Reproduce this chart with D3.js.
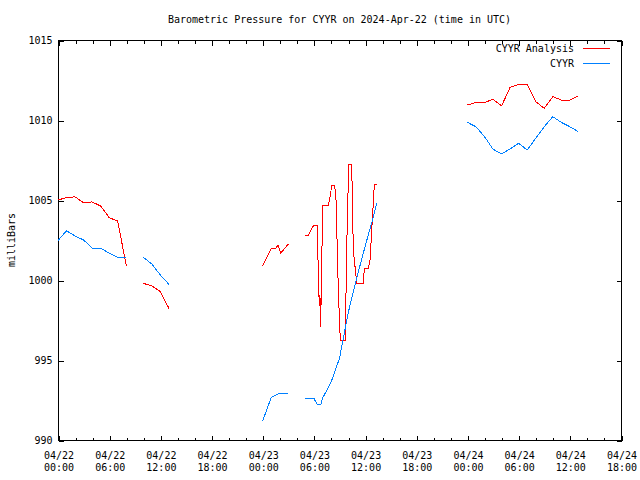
<!DOCTYPE html>
<html>
<head>
<meta charset="utf-8">
<script src="https://cdn.jsdelivr.net/npm/d3@7"></script>
<style>
  body { margin: 0; background: #fff; }
  svg { display: block; }
  text { font-family: "DejaVu Sans Mono", "Liberation Mono", monospace; font-size: 10px; fill: #000; }
</style>
</head>
<body>
<svg id="chart" width="640" height="480"></svg>
<script>
// ---- Data (hours since 2024-04-22 00:00 UTC; null = gap) ----
const analysisTimes = [0,1,2,3,4,5,6,7,8, null, 10,11,12,13, null,
  24,25,25.5,25.8,26.1,27, null,
  28.96,29.34,29.93,30.40,30.52,30.63,30.71,30.79,31.03,31.69,31.89,32.09,32.44,32.59,32.86,33.09,33.68,33.84,34.08,34.43,34.62,35.02,35.79,35.91,36.38,36.58,37.08,37.36, null,
  48,49,50,51,52,53,54,55,56,57,58,59,60,61];
const analysisValues = [1005.0,1005.15,1005.2,1004.82,1004.88,1004.62,1003.9,1003.68,1000.9, null, 999.79,999.63,999.27,998.23, null,
  1000.88,1001.98,1001.98,1002.19,1001.67,1002.25, null,
  1002.81,1002.81,1003.38,1003.38,1000.3,998.4,999.06,997.08,1004.63,1004.63,1005.2,1005.88,1005.88,1005.0,999.4,996.25,996.25,1001.9,1007.23,1007.23,1001.88,999.79,999.79,1000.73,1000.73,1001.25,1005.94,1005.94, null,
  1010.94,1011.1,1011.1,1011.29,1010.88,1012.04,1012.23,1012.23,1011.15,1010.73,1011.46,1011.25,1011.25,1011.5];

const cyyrTimes = [0,1,2,3,4,5,6,7,8, null, 10,11,12,13, null,
  24,25,26,27, null,
  29,30,30.4,30.8,31,32,33,34,35,36,37,37.36, null,
  48,49,50,51,52,53,54,55,56,57,58,59,60,61];
const cyyrValues = [1002.46,1003.08,1002.75,1002.5,1002.0,1002.0,1001.67,1001.42,1001.42, null, 1001.42,1001.0,1000.31,999.73, null,
  991.2,992.67,992.92,992.92, null,
  992.6,992.6,992.2,992.2,992.6,993.6,995.1,997.9,1000.1,1002.1,1004.0,1004.8, null,
  1009.85,1009.58,1008.96,1008.17,1007.88,1008.19,1008.54,1008.13,1008.85,1009.58,1010.21,1009.85,1009.58,1009.27];

const xTickHours = [0,6,12,18,24,30,36,42,48,54,60,66];
const xTickDates = ["04/22","04/22","04/22","04/22","04/23","04/23","04/23","04/23","04/24","04/24","04/24","04/24"];
const xTickTimes = ["00:00","06:00","12:00","18:00","00:00","06:00","12:00","18:00","00:00","06:00","12:00","18:00"];
const xMinorHours = d3.range(0, 67, 2).filter(h => h % 6 !== 0);
const yTicks = [990, 995, 1000, 1005, 1010, 1015];

const titleText = "Barometric Pressure for CYYR on 2024-Apr-22 (time in UTC)";
const yLabelText = "milliBars";
const seriesNames = ["CYYR Analysis", "CYYR"];
const seriesColors = ["#ff0000", "#0080ff"];

// ---- Layout ----
const svg = d3.select("#chart");
const L = 58, R = 621, T = 40, B = 440;
const x = d3.scaleLinear().domain([0, 66]).range([L, R]);
const y = d3.scaleLinear().domain([990, 1015]).range([B, T]);

svg.append("rect").attr("width", 640).attr("height", 480).attr("fill", "#fff");

// Title
svg.append("text").attr("x", (L + R) / 2).attr("y", 23).attr("text-anchor", "middle").text(titleText);

// Y label
svg.append("text").attr("transform", "translate(15,240) rotate(-90)")
  .attr("text-anchor", "middle").text(yLabelText);

// Axes
function styleAxis(g) {
  g.select(".domain").remove();
  g.selectAll("line").attr("stroke", "#000").attr("shape-rendering", "crispEdges");
  g.selectAll("text").style("font-family", "\"DejaVu Sans Mono\", monospace").style("font-size", "10px");
}

// bottom major
const xAxis = svg.append("g").attr("transform", `translate(0.5,${B + 0.5})`)
  .call(d3.axisBottom(x).tickValues(xTickHours).tickSize(-5).tickPadding(0).tickFormat(""))
  .call(styleAxis);
xAxis.selectAll(".tick text").remove();
xAxis.selectAll(".tick").each(function(d, i) {
  const t = d3.select(this).append("text").attr("text-anchor", "middle").attr("fill", "#000");
  t.append("tspan").attr("x", 0).attr("y", 18).text(xTickDates[i]);
  t.append("tspan").attr("x", 0).attr("y", 30).text(xTickTimes[i]);
});
// bottom minor
svg.append("g").attr("transform", `translate(0.5,${B + 0.5})`)
  .call(d3.axisBottom(x).tickValues(xMinorHours).tickSize(-3).tickFormat(""))
  .call(styleAxis);
// top major/minor (mirror)
svg.append("g").attr("transform", `translate(0.5,${T + 0.5})`)
  .call(d3.axisTop(x).tickValues(xTickHours).tickSize(-5).tickFormat(""))
  .call(styleAxis);
svg.append("g").attr("transform", `translate(0.5,${T + 0.5})`)
  .call(d3.axisTop(x).tickValues(xMinorHours).tickSize(-3).tickFormat(""))
  .call(styleAxis);
// left
svg.append("g").attr("transform", `translate(${L + 0.5},0.5)`)
  .call(d3.axisLeft(y).tickValues(yTicks).tickSize(-5).tickPadding(6).tickFormat(d3.format("d")))
  .call(styleAxis);
// right mirror
svg.append("g").attr("transform", `translate(${R + 0.5},0.5)`)
  .call(d3.axisRight(y).tickValues(yTicks).tickSize(-5).tickFormat(""))
  .call(styleAxis);

// Frame
svg.append("rect").attr("x", L + 0.5).attr("y", T + 0.5).attr("width", R - L).attr("height", B - T)
  .attr("fill", "none").attr("stroke", "#000").attr("shape-rendering", "crispEdges");

// Lines
function drawSeries(times, values, color) {
  const pts = times.map((t, i) => ({ t, v: values[i] }));
  const line = d3.line()
    .defined(d => d.t !== null && d.v !== null)
    .x(d => x(d.t)).y(d => y(d.v));
  svg.append("path").datum(pts).attr("d", line)
    .attr("fill", "none").attr("stroke", color).attr("stroke-width", 1)
    .attr("shape-rendering", "crispEdges")
    .attr("stroke-linejoin", "miter");
}
drawSeries(analysisTimes, analysisValues, seriesColors[0]);
drawSeries(cyyrTimes, cyyrValues, seriesColors[1]);

// Legend
seriesNames.forEach((name, i) => {
  const ly = 48 + i * 15;
  svg.append("text").attr("x", 574).attr("y", ly + 4).attr("text-anchor", "end").text(name);
  svg.append("line").attr("x1", 583).attr("x2", 610).attr("y1", ly + 0.5).attr("y2", ly + 0.5)
    .attr("stroke", seriesColors[i]).attr("stroke-width", 1).attr("shape-rendering", "crispEdges");
});
</script>
</body>
</html>
